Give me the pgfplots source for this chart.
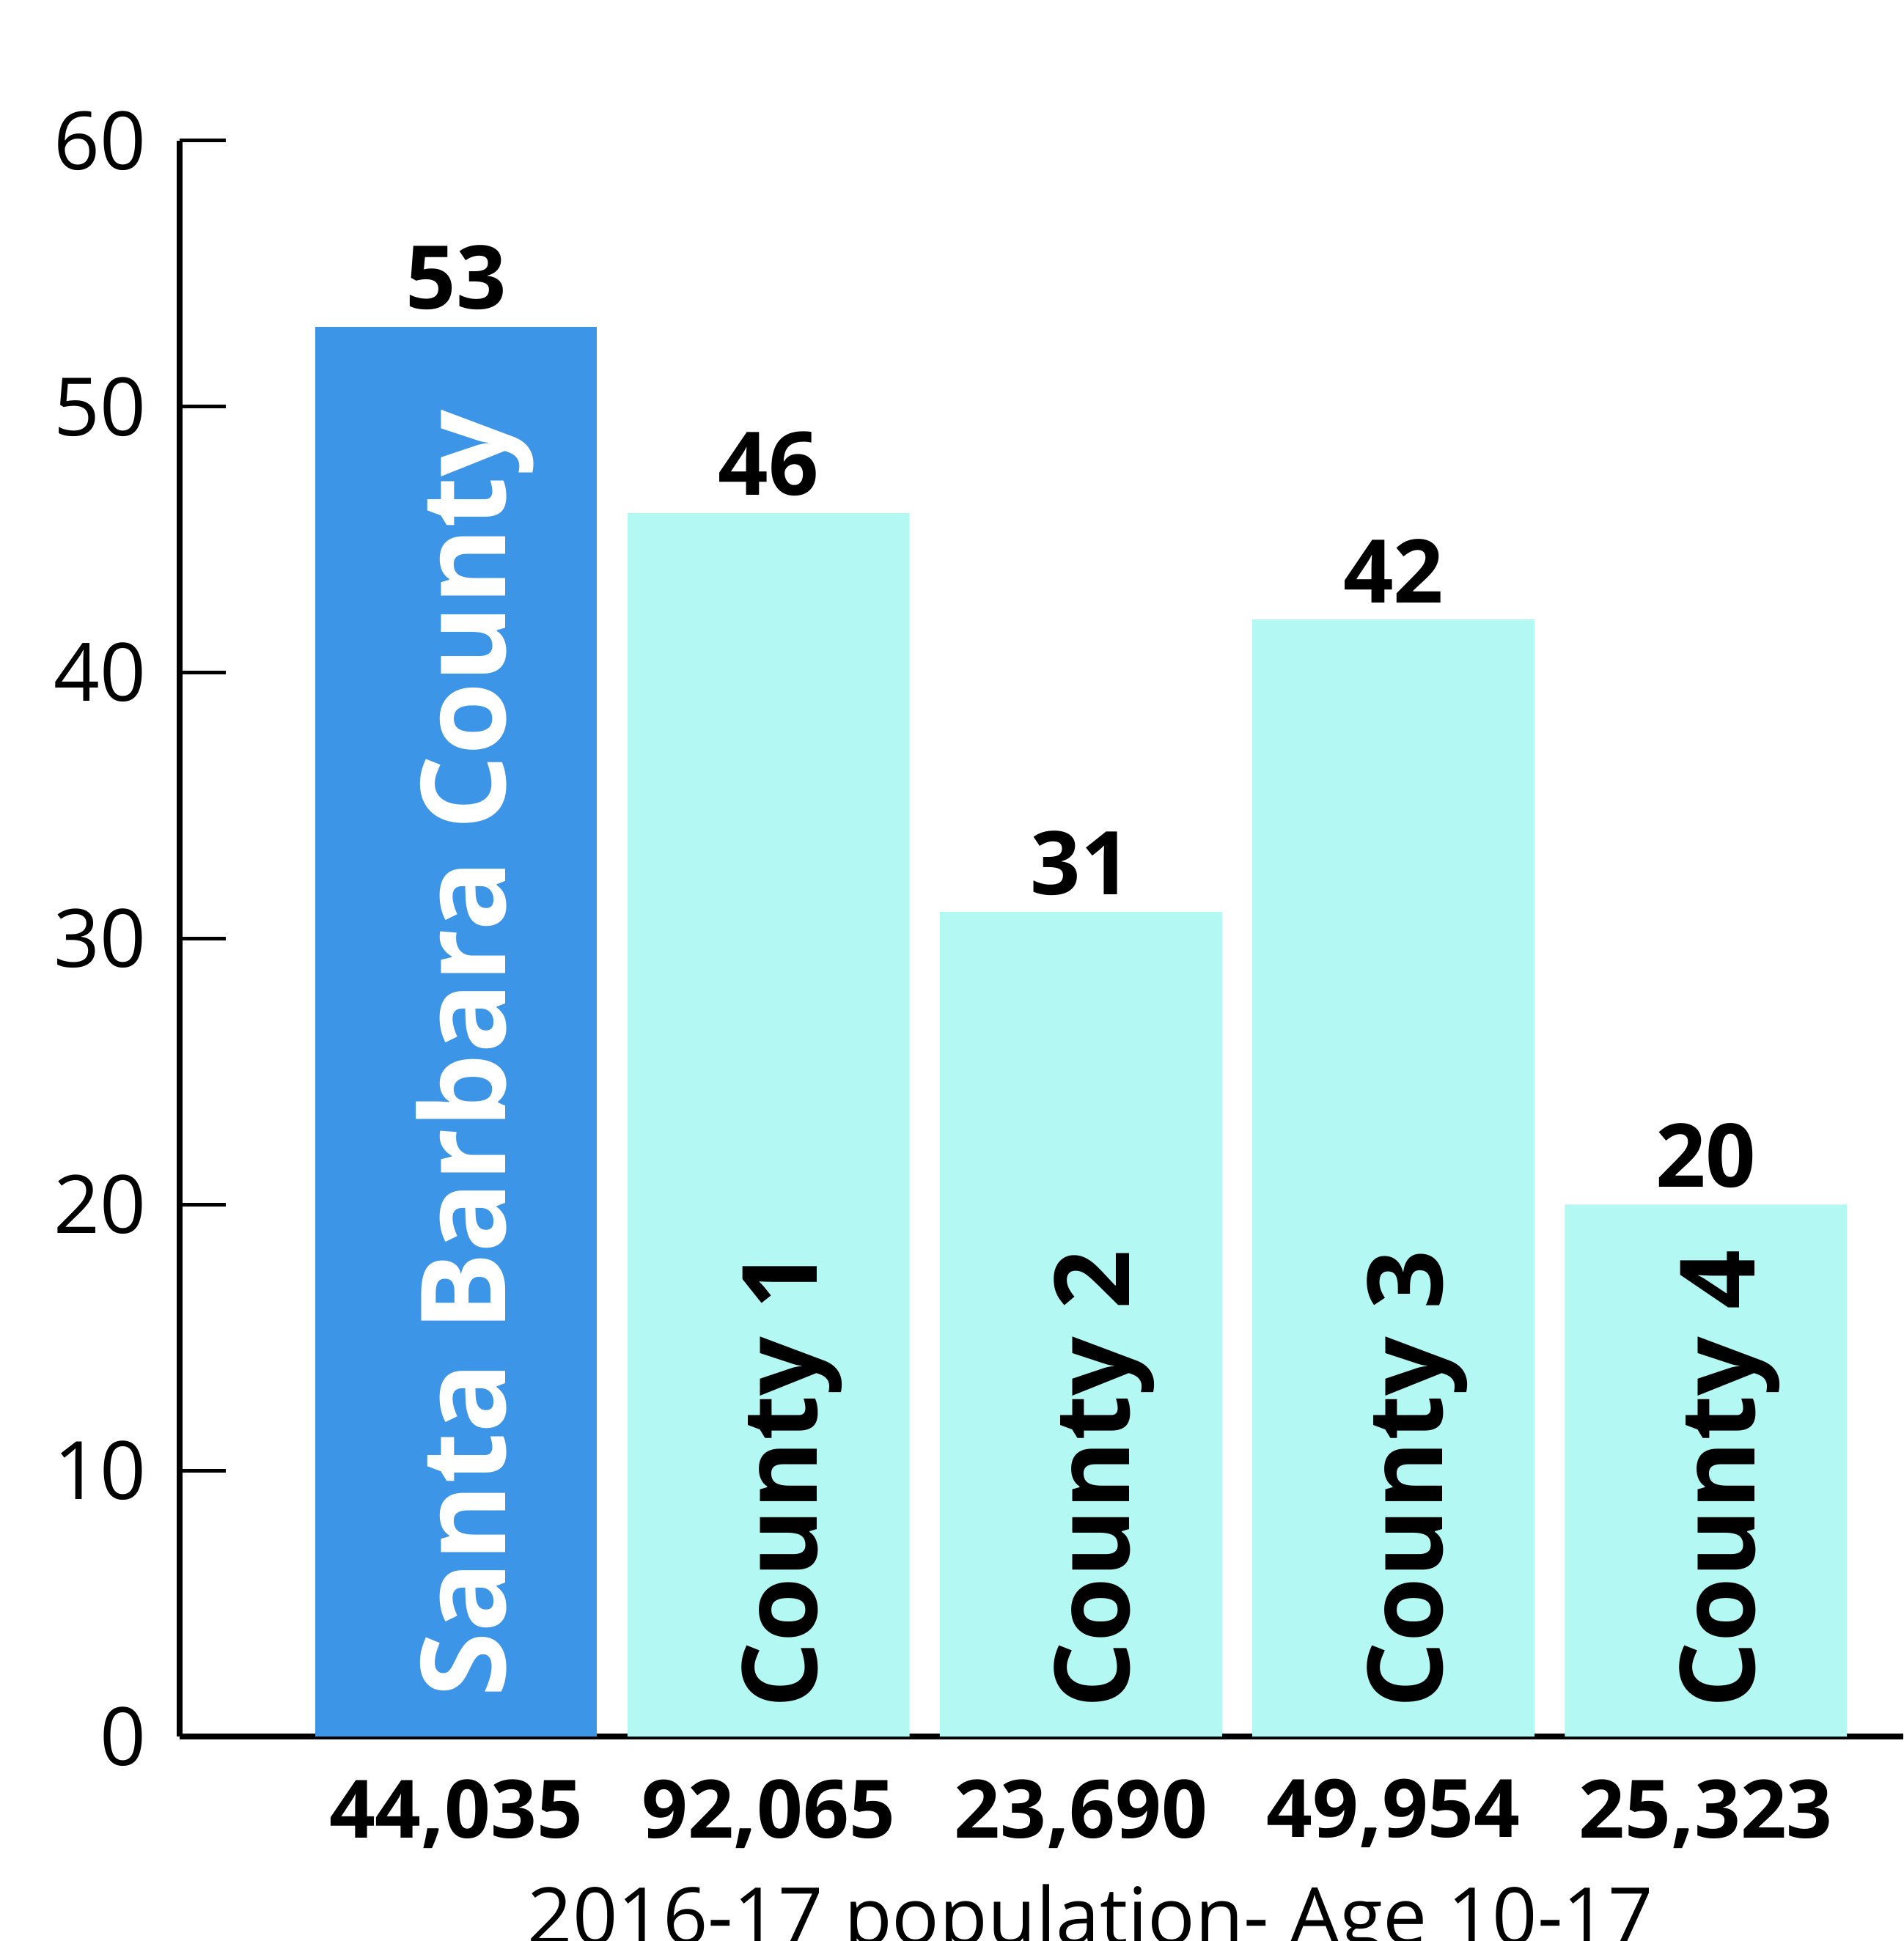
\documentclass[border=0pt]{standalone}
\usepackage{pgfplots}
\pgfplotsset{compat=1.18}
\usepackage{fontspec}
\setmainfont{Open Sans}
\definecolor{sbblue}{HTML}{3D95E7}
\definecolor{cyanbar}{HTML}{B4F8F4}
\pgfkeys{/pgf/number format/assume math mode=true}
\begin{document}
\begin{tikzpicture}
\begin{axis}[
  at={(0,0)}, anchor=south west,
  scale only axis, width=470.4pt, height=435.6pt,
  xmin=-0.885, xmax=4.632, ymin=0, ymax=60,
  axis x line*=bottom, axis y line*=left,
  axis line style={line width=1.7pt, black},
  ybar, bar width=77pt,
  xtick={0,1,2,3,4},
  xticklabels={{44,035},{92,065},{23,690},{49,954},{25,323}},
  x tick style={draw=none},
  ytick={0,10,...,60},
  y tick style={line width=1pt, black},
  tick align=inside, major tick length=12.7pt,
  yticklabel style={font=\fontsize{22}{26}\selectfont, inner sep=0pt, anchor=east, xshift=-9pt, /pgf/number format/assume math mode=true},
  xticklabel style={font=\bfseries\fontsize{22}{26}\selectfont, inner sep=0pt, anchor=north, yshift=-11.5pt},
  every node near coord/.append style={font=\bfseries\fontsize{24}{28}\selectfont, inner sep=0pt, anchor=south, yshift=4.4pt, text=black, /pgf/number format/assume math mode=true},
  clip=false,
]
\addplot[fill=sbblue, draw=none, bar shift=0pt, nodes near coords] coordinates {(0,53)};
\addplot[fill=cyanbar, draw=none, bar shift=0pt, nodes near coords] coordinates {(1,46) (2,31) (3,42) (4,20)};
\node[xshift=13.4pt, yshift=10.5pt, rotate=90, anchor=base west, inner sep=0pt, font=\bfseries\fontsize{32.1}{36}\selectfont, text=white] at (axis cs:0,0) {Santa Barbara County};
\node[xshift=13.3pt, yshift=7.5pt, rotate=90, anchor=base west, inner sep=0pt, font=\bfseries\fontsize{28.4}{32}\selectfont, text=black] at (axis cs:1,0) {County 1};
\node[xshift=13.3pt, yshift=7.5pt, rotate=90, anchor=base west, inner sep=0pt, font=\bfseries\fontsize{28.4}{32}\selectfont, text=black] at (axis cs:2,0) {County 2};
\node[xshift=13.3pt, yshift=7.5pt, rotate=90, anchor=base west, inner sep=0pt, font=\bfseries\fontsize{28.4}{32}\selectfont, text=black] at (axis cs:3,0) {County 3};
\node[xshift=13.3pt, yshift=7.5pt, rotate=90, anchor=base west, inner sep=0pt, font=\bfseries\fontsize{28.4}{32}\selectfont, text=black] at (axis cs:4,0) {County 4};
\node[anchor=north, inner sep=0pt, yshift=-40.2pt, font=\fontsize{21.5}{25}\selectfont] at (axis cs:2.03,0) {2016-17 population- Age 10-17};
\end{axis}
\pgfresetboundingbox
\path[use as bounding box] (-49pt,-55.8pt) rectangle (470.4pt,474.0pt);
\end{tikzpicture}
\end{document}
